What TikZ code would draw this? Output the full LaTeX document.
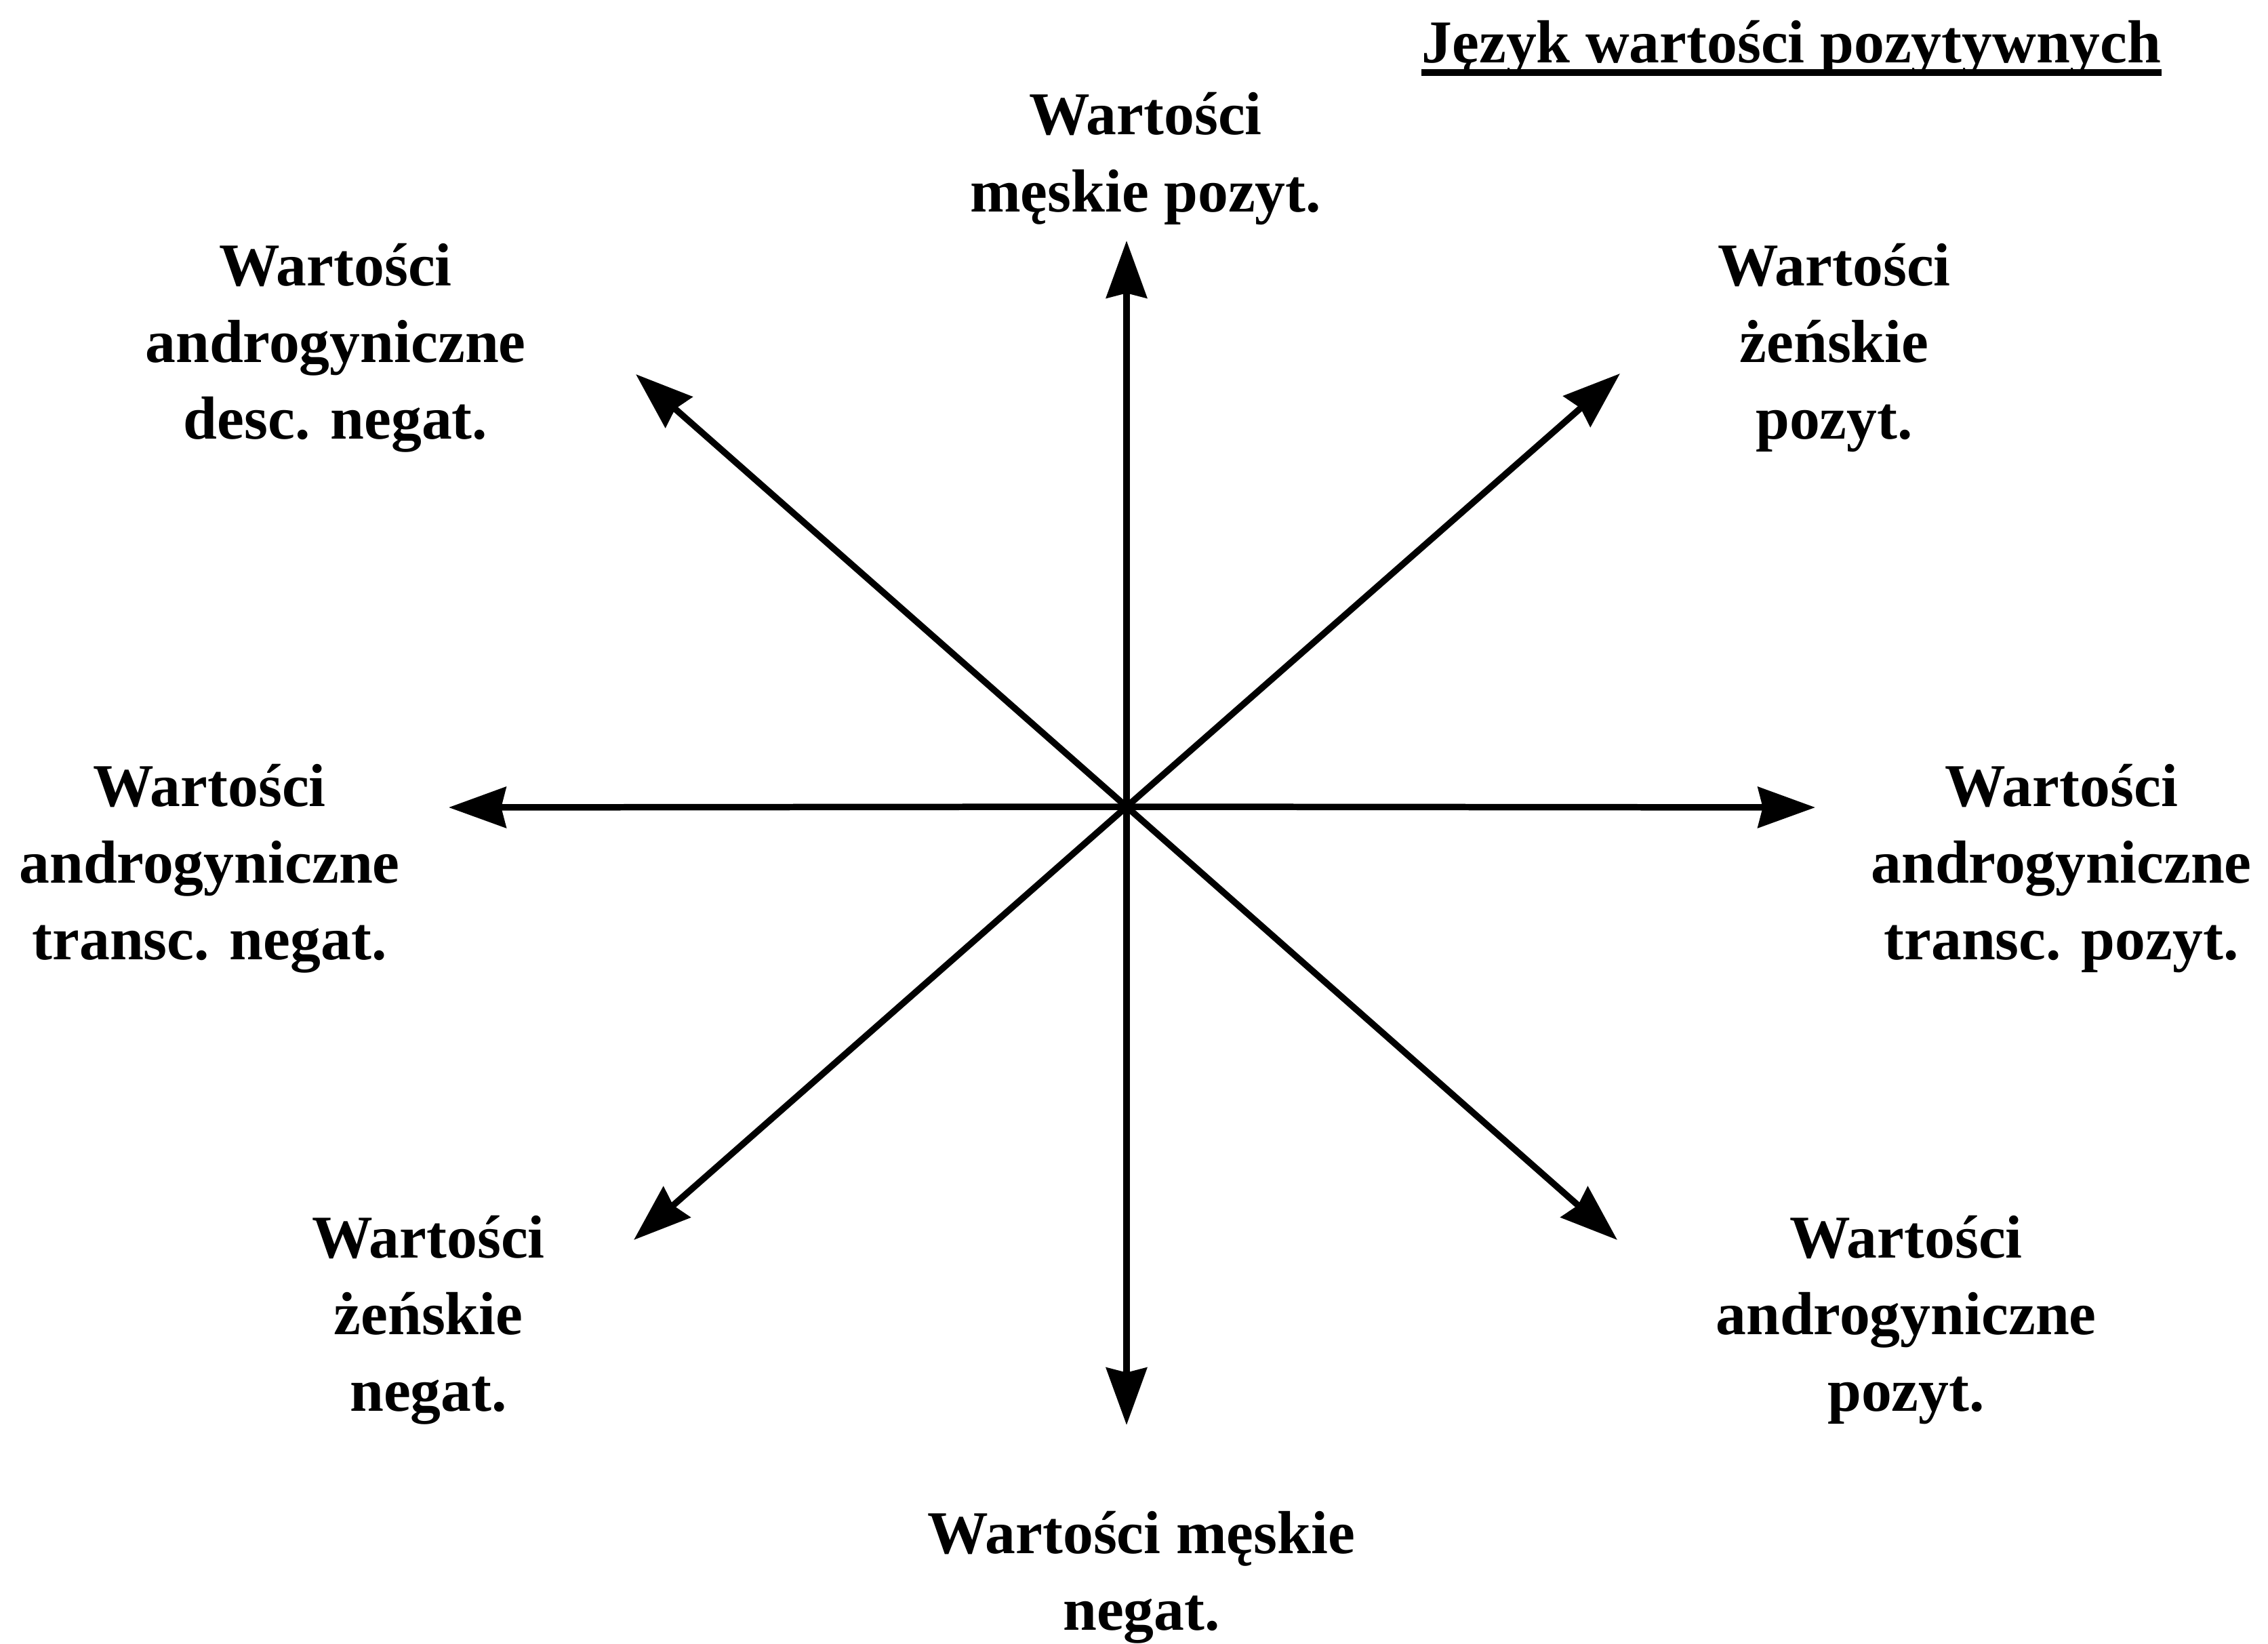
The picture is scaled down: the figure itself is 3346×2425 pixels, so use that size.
\documentclass[tikz,border=0pt]{standalone}
\usepackage{fontspec}
\setmainfont{Liberation Serif}
\usetikzlibrary{arrows.meta}
\begin{document}
\begin{tikzpicture}[x=0.01cm,y=-0.01cm,
  lab/.style={font=\bfseries\fontsize{25.5}{32.2}\selectfont, align=center, inner sep=0pt},
  axis/.style={line width=2.7pt, -{Stealth[length=24pt,width=17pt,inset=2pt]}}]
\useasboundingbox[fill=white] (0,0) rectangle (3346,2425);
% centre and tips
\coordinate (O) at (1662,1190);
\coordinate (tN) at (1662,355);
\coordinate (tS) at (1662,2102);
\coordinate (tW) at (662,1191);
\coordinate (tE) at (2678,1191);
\coordinate (tNW) at (938,552);
\coordinate (tNE) at (2390,551);
\coordinate (tSW) at (935,1829);
\coordinate (tSE) at (2386,1829);
\foreach \t in {tN,tS,tW,tE,tNW,tNE,tSW,tSE} \draw[axis] (O) -- (\t);
% labels
\node[lab] (lN) at (1690,234) {Wartości\\męskie pozyt.};
\node[lab] (lNW) at (495,513) {Wartości\\androgyniczne\\desc. negat.};
\node[lab] (lNE) at (2706,513) {Wartości\\żeńskie\\pozyt.};
\node[lab] (lW) at (309,1281) {Wartości\\androgyniczne\\transc. negat.};
\node[lab] (lE) at (3041,1281) {Wartości\\androgyniczne\\transc. pozyt.};
\node[lab] (lSW) at (632,1947) {Wartości\\żeńskie\\negat.};
\node[lab] (lSE) at (2812,1947) {Wartości\\androgyniczne\\pozyt.};
\node[lab] (lS) at (1684,2327) {Wartości męskie\\negat.};
% title
\node[lab, anchor=base] (title) at (2643,93) {Język wartości pozytywnych};
\draw[line width=3pt] (title.base west) ++(0,14) coordinate (u1) -- (title.base east |- u1);
\end{tikzpicture}
\end{document}
